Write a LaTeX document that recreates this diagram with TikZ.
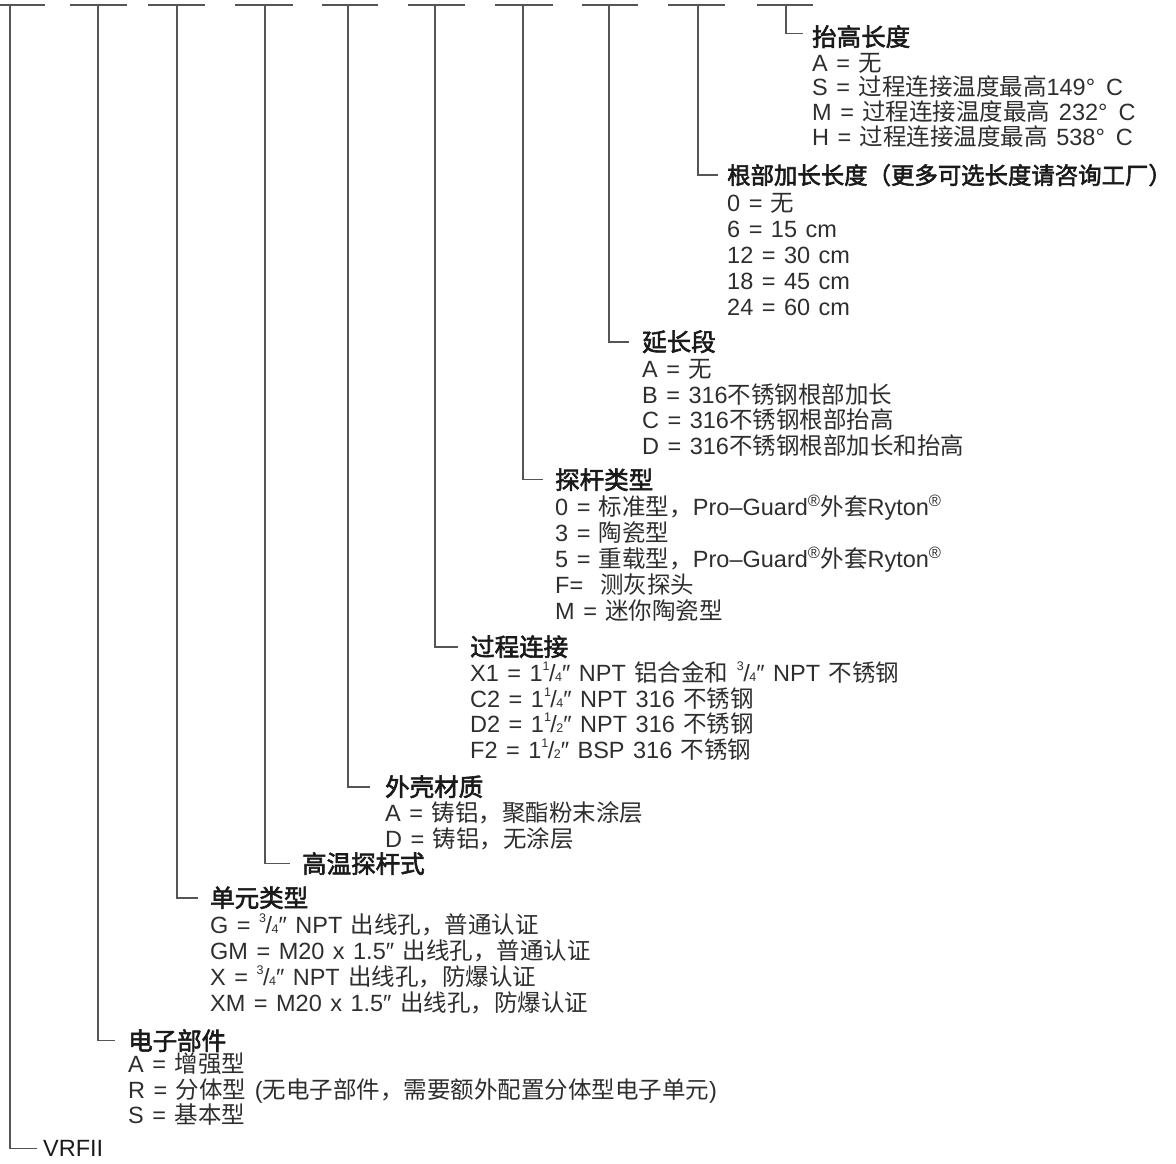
\documentclass[tikz,border=0pt]{standalone}
\usepackage{fontspec}
\setmainfont{Liberation Sans}[WordSpace=1.3]
\newfontfamily\zhfont{Noto Sans CJK SC}
\newfontfamily\zhmfont{Noto Sans CJK SC}[FakeBold=2.4]
\definecolor{hdcol}{HTML}{1A1A1A}
\definecolor{itcol}{HTML}{2E2E2E}
\definecolor{lncol}{HTML}{555555}
\newcommand\zh[1]{{\zhfont #1}}
\newcommand\zhb[1]{{\zhmfont\fontsize{24.5}{28}\selectfont #1}}
\newcommand\fracx[2]{\raisebox{0.45em}{\fontsize{12.5}{12}\selectfont #1}\kern-0.5pt/\kern-0.5pt{\fontsize{12.5}{12}\selectfont #2}}
\newcommand\regm{\textsuperscript{®}}
\tikzset{
  hd/.style={anchor=base west, inner sep=0pt, text=hdcol, font=\fontsize{24.5}{28}\selectfont},
  it/.style={anchor=base west, inner sep=0pt, text=itcol, font=\fontsize{23.5}{27}\selectfont},
  ln/.style={draw=lncol, line width=1.6pt},
}
\begin{document}
\begin{tikzpicture}[x=1pt,y=-1pt]
\useasboundingbox (0,0) rectangle (1176,1163);
% bar tops
\coordinate (tJ) at (10,5);
\coordinate (tI) at (98,5);
\coordinate (tH) at (177,5);
\coordinate (tG) at (265,5);
\coordinate (tF) at (348,5);
\coordinate (tE) at (435,5);
\coordinate (tD) at (523,5);
\coordinate (tC) at (609,5);
\coordinate (tB) at (698,5);
\coordinate (tA) at (786,5);
\draw[ln] (0,5) -- (45,5);
\draw[ln] (70,5) -- (127,5);
\draw[ln] (148,5) -- (205,5);
\draw[ln] (235,5) -- (293,5);
\draw[ln] (322,5) -- (378,5);
\draw[ln] (408,5) -- (465,5);
\draw[ln] (495,5) -- (553,5);
\draw[ln] (582,5) -- (638,5);
\draw[ln] (668,5) -- (725,5);
\draw[ln] (757,5) -- (813,5);

% A
\node[hd] (hA) at (812,46) {\zhb{抬高长度}};
\node[it] (A1) at (812,71.5) {A = \zh{无}};
\node[it] (A2) at (812,95.5) {S = \zh{过程连接温度最高}149°\hspace{11pt}C};
\node[it] (A3) at (812,120.5) {M = \zh{过程连接温度最高} 232°\hspace{11pt}C};
\node[it] (A4) at (812,145.5) {H = \zh{过程连接温度最高} 538°\hspace{11pt}C};
\draw[ln] (tA) |- ([xshift=-9pt,yshift=3pt]hA.west);

% B
\node[hd] (hB) at (727,184) {{\zhmfont\fontsize{23.4}{28}\selectfont 根部加长长度（更多可选长度请咨询工厂）}};
\node[it] (B1) at (727,211.5) {0 = \zh{无}};
\node[it] (B2) at (727,237.5) {6 = 15 cm};
\node[it] (B3) at (727,263.5) {12 = 30 cm};
\node[it] (B4) at (727,289.5) {18 = 45 cm};
\node[it] (B5) at (727,315.5) {24 = 60 cm};
\draw[ln] (tB) |- ([xshift=-9pt]hB.west);

% C
\node[hd] (hC) at (642,351) {\zhb{延长段}};
\node[it] (C1) at (642,377.5) {A = \zh{无}};
\node[it] (C2) at (642,403.5) {B = 316\zh{不锈钢根部加长}};
\node[it] (C3) at (642,428.5) {C = 316\zh{不锈钢根部抬高}};
\node[it] (C4) at (642,454.5) {D = 316\zh{不锈钢根部加长和抬高}};
\draw[ln] (tC) |- ([xshift=-13pt]hC.west);

% D
\node[hd] (hD) at (555,489) {\zhb{探杆类型}};
\node[it] (D1) at (555,515.5) {0 = \zh{标准型，}Pro–Guard\regm\zh{外套}Ryton\regm};
\node[it] (D2) at (555,541.5) {3 = \zh{陶瓷型}};
\node[it] (D3) at (555,567.5) {5 = \zh{重载型，}Pro–Guard\regm\zh{外套}Ryton\regm};
\node[it] (D4) at (555,593.5) {F=\ \ \zh{测灰探头}};
\node[it] (D5) at (555,619.5) {M = \zh{迷你陶瓷型}};
\draw[ln] (tD) |- ([xshift=-12pt]hD.west);

% E
\node[hd] (hE) at (470,656) {\zhb{过程连接}};
\node[it] (E1) at (470,681.5) {X1 = 1\fracx{1}{4}″ NPT \zh{铝合金和} \fracx{3}{4}″ NPT \zh{不锈钢}};
\node[it] (E2) at (470,707.5) {C2 = 1\fracx{1}{4}″ NPT 316 \zh{不锈钢}};
\node[it] (E3) at (470,732.5) {D2 = 1\fracx{1}{2}″ NPT 316 \zh{不锈钢}};
\node[it] (E4) at (470,758.5) {F2 = 1\fracx{1}{2}″ BSP 316 \zh{不锈钢}};
\draw[ln] (tE) |- ([xshift=-12pt]hE.west);

% F
\node[hd] (hF) at (385,796) {\zhb{外壳材质}};
\node[it] (F1) at (385,821.5) {A = \zh{铸铝，聚酯粉末涂层}};
\node[it] (F2) at (385,847.5) {D = \zh{铸铝，无涂层}};
\draw[ln] (tF) |- ([xshift=-15pt]hF.west);

% G
\node[hd] (hG) at (302,873) {\zhb{高温探杆式}};
\draw[ln] (tG) |- ([xshift=-12pt]hG.west);

% H
\node[hd] (hH) at (210,907) {\zhb{单元类型}};
\node[it] (H1) at (210,933.5) {G = \fracx{3}{4}″ NPT \zh{出线孔，普通认证}};
\node[it] (H2) at (210,959.5) {GM = M20 x 1.5″ \zh{出线孔，普通认证}};
\node[it] (H3) at (210,985.5) {X = \fracx{3}{4}″ NPT \zh{出线孔，防爆认证}};
\node[it] (H4) at (210,1011.5) {XM = M20 x 1.5″ \zh{出线孔，防爆认证}};
\draw[ln] (tH) |- ([xshift=-12pt]hH.west);

% I
\node[hd] (hI) at (128,1050) {\zhb{电子部件}};
\node[it] (I1) at (128,1072.5) {A = \zh{增强型}};
\node[it] (I2) at (128,1098.5) {R = \zh{分体型} (\zh{无电子部件，需要额外配置分体型电子单元})};
\node[it] (I3) at (128,1123.5) {S = \zh{基本型}};
\draw[ln] (tI) |- ([xshift=-13pt]hI.west);

% J
\node[it, text=hdcol] (hJ) at (43,1156.5) {VRFII};
\draw[ln] (tJ) |- ([xshift=-6pt]hJ.west);
\end{tikzpicture}
\end{document}
